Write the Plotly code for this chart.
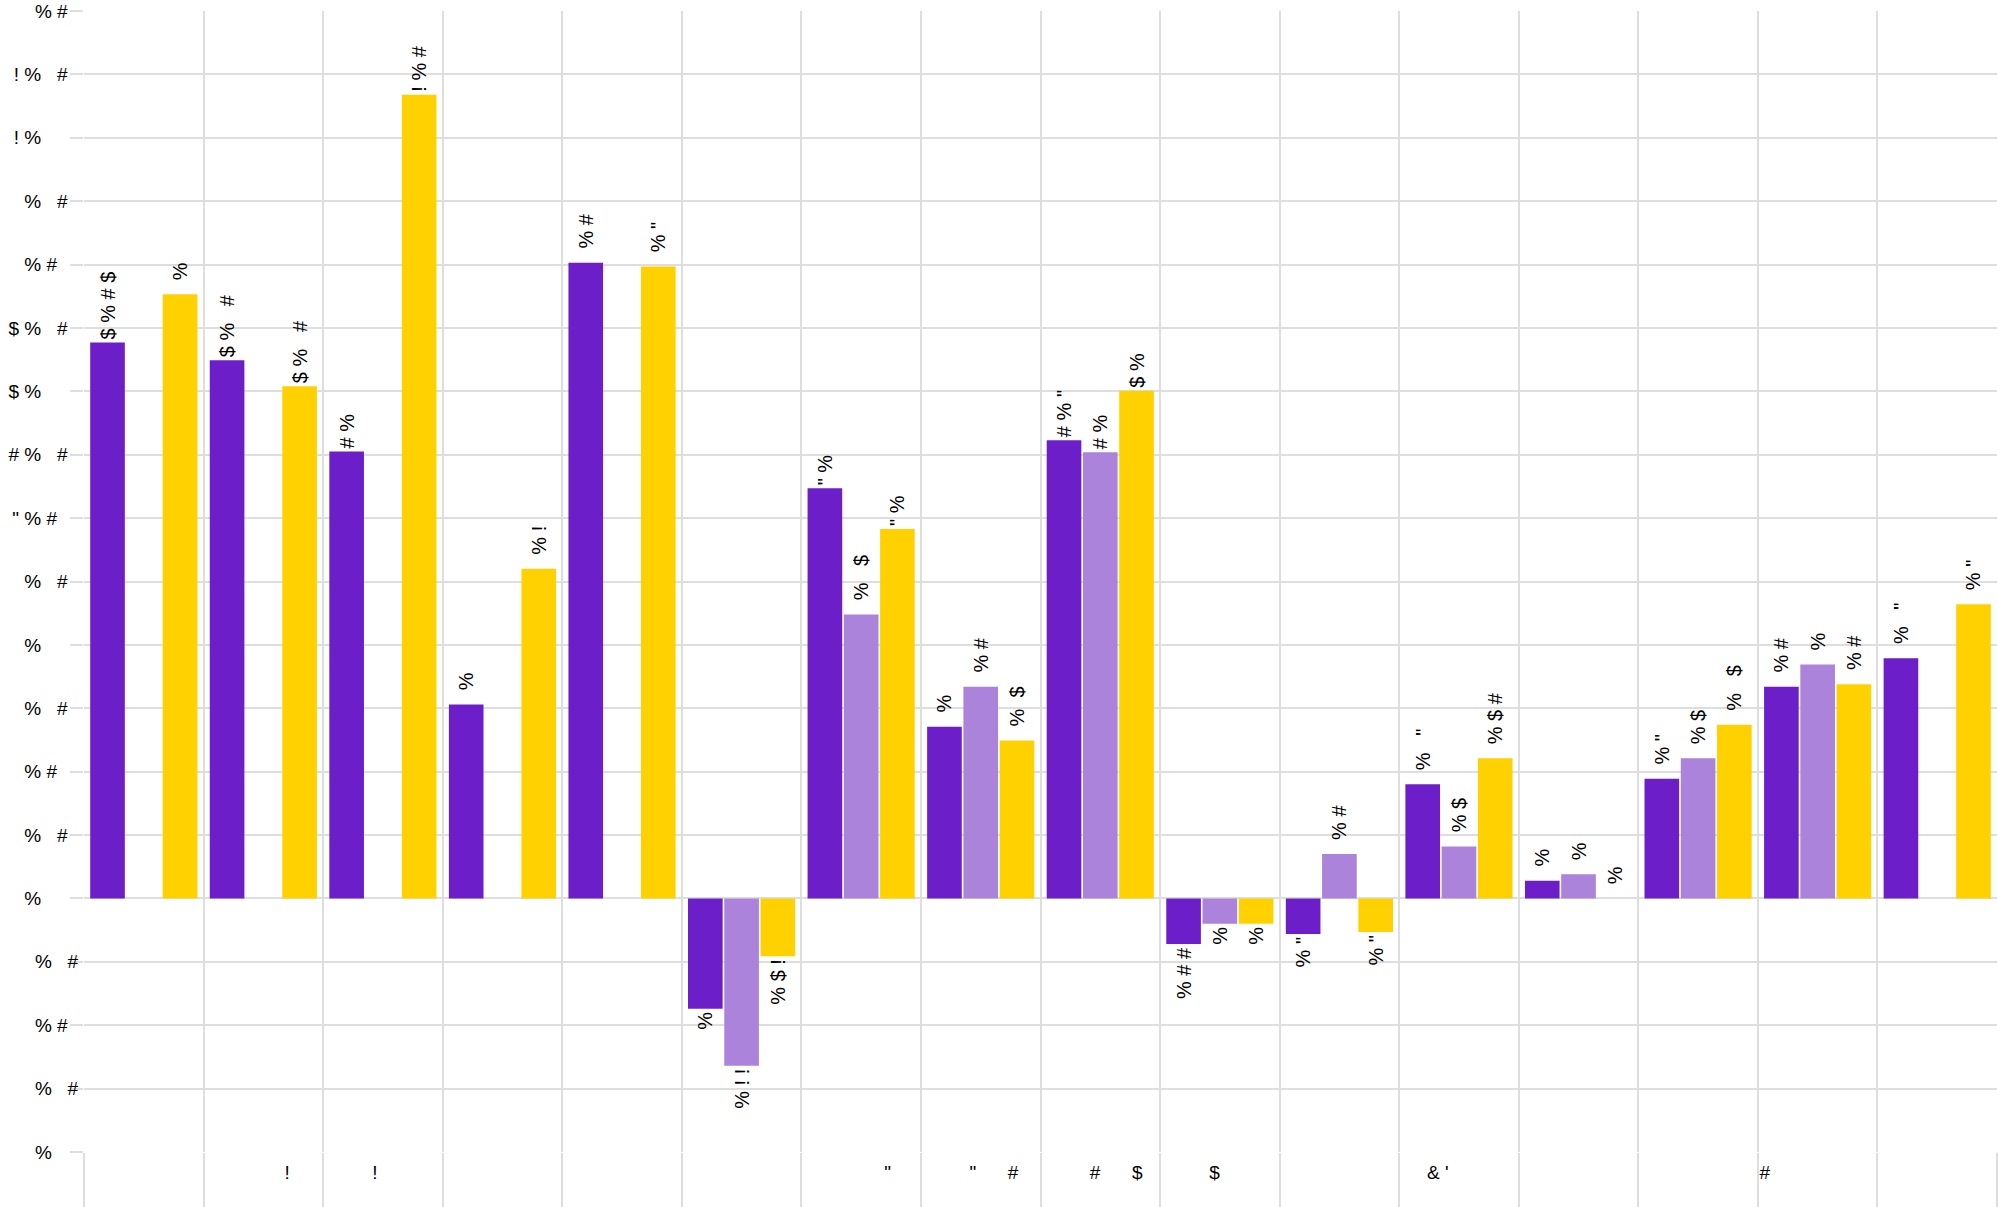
import plotly.graph_objects as go

# ---- data -------------------------------------------------------------
categories = [str(i) for i in range(1, 17)]

# category tick labels (only the glyphs that render are visible; blanks kept as spaces)
x_labels = [
    "",
    " " * 9 + "!",
    "!" + " " * 3,
    "",
    "",
    "",
    " " * 10 + '"',
    " " * 5 + '"' + " " * 6 + "#",
    " " * 6 + "#" + " " * 6 + "$",
    "$" + " " * 2,
    "",
    "& '" + " " * 8,
    "",
    "",
    "#" + " " * 20,
    "",
]

series_a = [8.77, 8.49, 7.05, 3.06, 10.03, -1.74, 6.47, 2.71, 7.23, -0.72, -0.56, 1.80, 0.28, 1.89, 3.34, 3.79]
series_b = [None, None, None, None, None, -2.64, 4.48, 3.34, 7.04, -0.40, 0.70, 0.82, 0.38, 2.21, 3.69, None]
series_c = [9.53, 8.08, 12.68, 5.20, 9.97, -0.91, 5.83, 2.49, 8.01, -0.40, -0.53, 2.21, 0.0, 2.74, 3.38, 4.64]

labels_a = ["$ % # $", "$ %   #", "# %", "  %", "  % #", "%", '" %', "  %", '# % "', "% # #",
            '% "', '  %   "', "  %", '  % "', "  % #", '  %   "']
labels_b = ["", "", "", "", "", "% ! !", "  %   $", "  % #", "# %", "%",
            "  % #", "  % $", "  %", "  % $", "  %", ""]
labels_c = ["  %", "$ %   #", "! % #", "  % !", '  % "', "% $ !", '" %', "  %  $", "$ %", "%",
            '% "', "  % $ #", "  %", "  %   $", "  % #", '  % "']

y_tickvals = list(range(-4, 15))
y_ticktext = ["%     ", "%   #", "% #  ", "%   #",
              "%       ", "%   #  ", "% #    ", "%   #  ", "%       ", "%   #  ",
              '" % #    ', "# %   #  ", "$ %       ", "$ %   #  ", "% #    ", "%   #  ",
              "! %       ", "! %   #  ", "% #  "]

colors = ["#6c1fc9", "#ab83da", "#ffd100"]

# ---- figure -----------------------------------------------------------
NB = "\u00a0"
def nb(s):
    return s.replace(" ", NB)

FONT = "Liberation Sans, Arial, sans-serif"

fig = go.Figure()
for vals, labs, col in [(series_a, labels_a, colors[0]),
                        (series_b, labels_b, colors[1]),
                        (series_c, labels_c, colors[2])]:
    fig.add_trace(go.Bar(
        x=categories, y=vals,
        text=[nb(t) for t in labs],
        textposition="outside", textangle=-90,
        textfont=dict(family=FONT, size=20, color="#000000"),
        constraintext="none", cliponaxis=False,
        marker=dict(color=col, line=dict(width=0)),
        showlegend=False, hoverinfo="skip",
    ))

fig.update_layout(
    width=1998, height=1207,
    margin=dict(l=84, r=1, t=11, b=55, autoexpand=False),
    paper_bgcolor="white", plot_bgcolor="white",
    barmode="group", bargap=0.09, bargroupgap=0.045,
    font=dict(family=FONT, size=19, color="#000000"),
    showlegend=False,
)
fig.update_xaxes(
    type="category", tickmode="array", tickvals=categories,
    ticktext=[nb(t) for t in x_labels], tickangle=0,
    tickson="boundaries", ticks="outside", ticklen=55, tickwidth=2, tickcolor="#dedede",
    showgrid=True, gridcolor="#dedede", gridwidth=2,
    showline=False, zeroline=False,
    tickfont=dict(family=FONT, size=19, color="#000000"),
    ticklabelstandoff=7, automargin=False,
)
fig.update_yaxes(
    range=[-4, 14], tickmode="array", tickvals=y_tickvals,
    ticktext=[nb(t) for t in y_ticktext],
    ticks="outside", ticklen=13, tickwidth=2, tickcolor="#dedede",
    showgrid=True, gridcolor="#dedede", gridwidth=2,
    showline=False, zeroline=False,
    tickfont=dict(family=FONT, size=19, color="#000000"),
    ticklabelstandoff=-12, automargin=False,
)

fig.write_html("out.html", config={"displayModeBar": False},
               post_script="document.body.style.margin='0';")
